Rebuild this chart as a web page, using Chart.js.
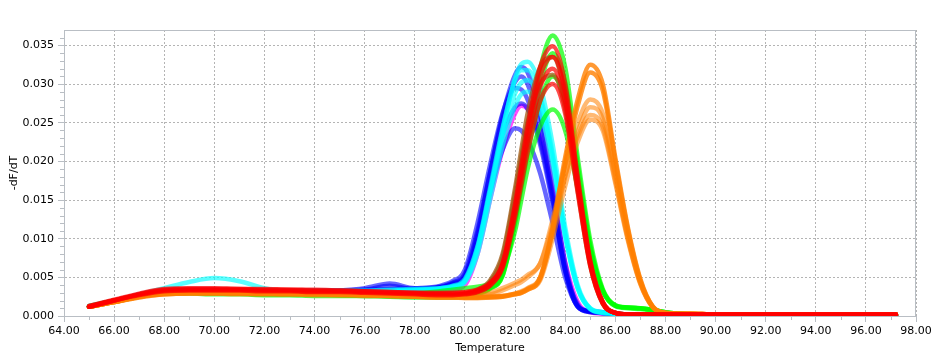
<!DOCTYPE html>
<html>
<head>
<meta charset="utf-8">
<script src="https://cdn.jsdelivr.net/npm/chart.js@4.4.1/dist/chart.umd.min.js"></script>
<style>
  html, body { margin: 0; padding: 0; background: #ffffff; }
  #wrap { width: 946px; height: 360px; }
</style>
</head>
<body>
<div id="wrap"><canvas id="c" width="946" height="360"></canvas></div>
<script>
// ---- Data ----
const temperatures = [65,66,67,68,69,70,71,72,73,74,75,76,77,78,
  79,79.5,80,80.5,81,81.5,
  82,82.25,82.5,83,83.5,84,84.5,85,
  85.5,86,86.5,87,87.5,88,
  89,90,92,94,96,97.2];

const xTickLabels = ["64.00","66.00","68.00","70.00","72.00","74.00","76.00","78.00","80.00","82.00","84.00","86.00","88.00","90.00","92.00","94.00","96.00","98.00"];
const yTickLabels = ["0.000","0.005","0.010","0.015","0.020","0.025","0.030","0.035"];
const xMinorTicks = [65,67,69,71,73,75,77,79,81,83,85,87,89,91,93,95,97];
const yMinorTicks = [0.001,0.002,0.003,0.004,0.006,0.007,0.008,0.009,0.011,0.012,0.013,0.014,0.016,0.017,0.018,0.019,0.021,0.022,0.023,0.024,0.026,0.027,0.028,0.029,0.031,0.032,0.033,0.034,0.036];

const blue1 = [0.0012,0.0019,0.0027,0.0032,0.0033,0.0033,0.0033,0.0032,0.0032,0.0032,0.0032,0.0033,0.0034,0.0035,
  0.0037,0.0040,0.0050,0.0105,0.0185,0.0260,
  0.0312,0.0322,0.0315,0.0260,0.0170,0.0068,0.0013,0.0006,
  0.0005,0.0003,0.0002,0.0001,0.0001,0.0001,
  0.0001,0.0001,0.0001,0.0001,0.0001,0.0001];
const blue2 = [0.0013,0.0020,0.0028,0.0033,0.0034,0.0034,0.0033,0.0033,0.0033,0.0033,0.0033,0.0034,0.0035,0.0036,
  0.0039,0.0045,0.0060,0.0120,0.0195,0.0262,
  0.0303,0.0310,0.0300,0.0245,0.0155,0.0060,0.0012,0.0006,
  0.0005,0.0003,0.0001,0.0001,0.0001,0.0001,
  0.0001,0.0001,0.0001,0.0001,0.0001,0.0001];
const blue3 = [0.0012,0.0019,0.0027,0.0031,0.0032,0.0032,0.0032,0.0032,0.0032,0.0032,0.0033,0.0036,0.0042,0.0036,
  0.0038,0.0043,0.0055,0.0110,0.0185,0.0255,
  0.0295,0.0293,0.0280,0.0228,0.0150,0.0058,0.0012,0.0005,
  0.0004,0.0002,0.0001,0.0001,0.0001,0.0001,
  0.0001,0.0001,0.0001,0.0001,0.0001,0.0001];
const blue4 = [0.0012,0.0019,0.0026,0.0031,0.0032,0.0032,0.0032,0.0031,0.0031,0.0031,0.0031,0.0032,0.0033,0.0034,
  0.0037,0.0042,0.0052,0.0100,0.0170,0.0235,
  0.0270,0.0275,0.0268,0.0222,0.0145,0.0060,0.0015,0.0006,
  0.0004,0.0002,0.0001,0.0001,0.0001,0.0001,
  0.0001,0.0001,0.0001,0.0001,0.0001,0.0001];
const blue5 = [0.0012,0.0019,0.0026,0.0031,0.0032,0.0032,0.0032,0.0032,0.0031,0.0031,0.0032,0.0034,0.0039,0.0035,
  0.0036,0.0041,0.0050,0.0095,0.0160,0.0215,
  0.0243,0.0240,0.0228,0.0185,0.0120,0.0050,0.0012,0.0005,
  0.0004,0.0002,0.0001,0.0001,0.0001,0.0001,
  0.0001,0.0001,0.0001,0.0001,0.0001,0.0001];

const cyan1 = [0.0012,0.0019,0.0027,0.0032,0.0033,0.0033,0.0033,0.0033,0.0033,0.0033,0.0033,0.0033,0.0034,0.0035,
  0.0036,0.0038,0.0045,0.0085,0.0160,0.0240,
  0.0308,0.0326,0.0329,0.0298,0.0222,0.0115,0.0040,0.0010,
  0.0005,0.0003,0.0002,0.0001,0.0001,0.0001,
  0.0001,0.0001,0.0001,0.0001,0.0001,0.0001];
const cyan2 = [0.0012,0.0019,0.0027,0.0031,0.0032,0.0032,0.0032,0.0032,0.0032,0.0032,0.0032,0.0032,0.0033,0.0034,
  0.0036,0.0039,0.0048,0.0090,0.0165,0.0243,
  0.0305,0.0318,0.0318,0.0285,0.0210,0.0108,0.0037,0.0009,
  0.0005,0.0003,0.0002,0.0001,0.0001,0.0001,
  0.0001,0.0001,0.0001,0.0001,0.0001,0.0001];
const cyan3 = [0.0012,0.0019,0.0028,0.0036,0.0044,0.0049,0.0045,0.0036,0.0032,0.0031,0.0031,0.0031,0.0032,0.0033,
  0.0035,0.0038,0.0046,0.0088,0.0160,0.0232,
  0.0288,0.0302,0.0305,0.0278,0.0205,0.0105,0.0036,0.0009,
  0.0004,0.0003,0.0002,0.0001,0.0001,0.0001,
  0.0001,0.0001,0.0001,0.0001,0.0001,0.0001];
const cyan4 = [0.0012,0.0019,0.0026,0.0031,0.0032,0.0032,0.0032,0.0031,0.0031,0.0031,0.0031,0.0031,0.0032,0.0033,
  0.0035,0.0037,0.0044,0.0080,0.0150,0.0220,
  0.0272,0.0287,0.0290,0.0265,0.0198,0.0102,0.0036,0.0010,
  0.0004,0.0003,0.0002,0.0001,0.0001,0.0001,
  0.0001,0.0001,0.0001,0.0001,0.0001,0.0001];

const magenta1 = [0.0012,0.0019,0.0026,0.0030,0.0031,0.0031,0.0031,0.0030,0.0030,0.0030,0.0030,0.0030,0.0031,0.0032,
  0.0033,0.0034,0.0040,0.0080,0.0150,0.0215,
  0.0262,0.0272,0.0268,0.0232,0.0160,0.0070,0.0018,0.0005,
  0.0003,0.0002,0.0001,0.0001,0.0001,0.0001,
  0.0001,0.0001,0.0001,0.0001,0.0001,0.0001];

const green1 = [0.0012,0.0019,0.0026,0.0030,0.0030,0.0030,0.0029,0.0029,0.0028,0.0028,0.0028,0.0027,0.0026,0.0025,
  0.0025,0.0025,0.0026,0.0029,0.0036,0.0055,
  0.0130,0.0180,0.0230,0.0320,0.0363,0.0322,0.0205,0.0098,
  0.0035,0.0014,0.0011,0.0010,0.0008,0.0005,
  0.0002,0.0001,0.0001,0.0001,0.0001,0.0001];
const green2 = [0.0012,0.0019,0.0026,0.0029,0.0030,0.0029,0.0029,0.0028,0.0028,0.0028,0.0027,0.0026,0.0025,0.0024,
  0.0024,0.0024,0.0025,0.0028,0.0035,0.0052,
  0.0125,0.0172,0.0220,0.0300,0.0340,0.0302,0.0195,0.0092,
  0.0033,0.0013,0.0011,0.0010,0.0008,0.0005,
  0.0002,0.0001,0.0001,0.0001,0.0001,0.0001];
const green3 = [0.0013,0.0020,0.0027,0.0030,0.0031,0.0031,0.0030,0.0029,0.0029,0.0029,0.0028,0.0027,0.0026,0.0026,
  0.0026,0.0026,0.0027,0.0030,0.0036,0.0052,
  0.0120,0.0165,0.0210,0.0278,0.0310,0.0278,0.0180,0.0088,
  0.0033,0.0013,0.0010,0.0009,0.0007,0.0004,
  0.0002,0.0001,0.0001,0.0001,0.0001,0.0001];
const green4 = [0.0012,0.0019,0.0026,0.0029,0.0029,0.0028,0.0028,0.0027,0.0027,0.0026,0.0026,0.0026,0.0027,0.0029,
  0.0032,0.0034,0.0036,0.0038,0.0042,0.0058,
  0.0110,0.0150,0.0190,0.0245,0.0267,0.0240,0.0165,0.0085,
  0.0032,0.0014,0.0011,0.0010,0.0008,0.0005,
  0.0002,0.0001,0.0001,0.0001,0.0001,0.0001];

const red1 = [0.0012,0.0020,0.0028,0.0034,0.0035,0.0035,0.0035,0.0034,0.0034,0.0033,0.0033,0.0032,0.0031,0.0030,
  0.0029,0.0029,0.0030,0.0033,0.0042,0.0068,
  0.0145,0.0195,0.0245,0.0322,0.0349,0.0300,0.0180,0.0072,
  0.0018,0.0004,0.0002,0.0002,0.0002,0.0002,
  0.0002,0.0002,0.0002,0.0002,0.0002,0.0002];
const red2 = [0.0013,0.0021,0.0029,0.0035,0.0036,0.0036,0.0035,0.0035,0.0034,0.0034,0.0033,0.0032,0.0031,0.0030,
  0.0030,0.0030,0.0031,0.0034,0.0043,0.0067,
  0.0140,0.0188,0.0236,0.0310,0.0335,0.0290,0.0175,0.0070,
  0.0018,0.0004,0.0002,0.0002,0.0002,0.0002,
  0.0002,0.0002,0.0002,0.0002,0.0002,0.0002];
const red3 = [0.0012,0.0020,0.0028,0.0033,0.0034,0.0034,0.0034,0.0033,0.0033,0.0032,0.0032,0.0031,0.0030,0.0029,
  0.0028,0.0028,0.0029,0.0032,0.0040,0.0064,
  0.0135,0.0180,0.0225,0.0296,0.0320,0.0277,0.0168,0.0068,
  0.0017,0.0004,0.0002,0.0002,0.0002,0.0002,
  0.0002,0.0002,0.0002,0.0002,0.0002,0.0002];
const red4 = [0.0012,0.0020,0.0027,0.0032,0.0033,0.0033,0.0033,0.0032,0.0032,0.0031,0.0031,0.0030,0.0029,0.0028,
  0.0027,0.0027,0.0028,0.0031,0.0039,0.0062,
  0.0128,0.0170,0.0212,0.0278,0.0300,0.0262,0.0160,0.0065,
  0.0016,0.0004,0.0002,0.0002,0.0002,0.0002,
  0.0002,0.0002,0.0002,0.0002,0.0002,0.0002];

const brown1 = [0.0012,0.0019,0.0026,0.0030,0.0031,0.0031,0.0031,0.0030,0.0030,0.0030,0.0029,0.0029,0.0028,0.0027,
  0.0027,0.0027,0.0029,0.0034,0.0046,0.0080,
  0.0165,0.0215,0.0262,0.0322,0.0335,0.0285,0.0170,0.0068,
  0.0017,0.0004,0.0002,0.0002,0.0002,0.0002,
  0.0002,0.0002,0.0002,0.0002,0.0002,0.0002];
const brown2 = [0.0012,0.0019,0.0026,0.0029,0.0030,0.0030,0.0030,0.0029,0.0029,0.0029,0.0028,0.0028,0.0027,0.0026,
  0.0026,0.0026,0.0028,0.0032,0.0044,0.0076,
  0.0158,0.0205,0.0250,0.0300,0.0312,0.0268,0.0162,0.0065,
  0.0016,0.0004,0.0002,0.0002,0.0002,0.0002,
  0.0002,0.0002,0.0002,0.0002,0.0002,0.0002];

const orange1 = [0.0012,0.0018,0.0025,0.0029,0.0030,0.0030,0.0030,0.0029,0.0029,0.0029,0.0028,0.0028,0.0027,0.0026,
  0.0025,0.0025,0.0024,0.0024,0.0025,0.0026,
  0.0029,0.0031,0.0035,0.0050,0.0115,0.0205,0.0280,0.0325,
  0.0300,0.0205,0.0115,0.0048,0.0012,0.0004,
  0.0003,0.0002,0.0002,0.0002,0.0002,0.0002];
const orange2 = [0.0012,0.0018,0.0025,0.0028,0.0029,0.0029,0.0029,0.0029,0.0028,0.0028,0.0028,0.0027,0.0026,0.0025,
  0.0024,0.0024,0.0024,0.0024,0.0024,0.0025,
  0.0028,0.0030,0.0034,0.0048,0.0110,0.0198,0.0272,0.0315,
  0.0292,0.0200,0.0112,0.0046,0.0012,0.0004,
  0.0003,0.0002,0.0002,0.0002,0.0002,0.0002];
const orange3 = [0.0012,0.0018,0.0025,0.0029,0.0030,0.0030,0.0030,0.0029,0.0029,0.0029,0.0028,0.0028,0.0027,0.0027,
  0.0027,0.0027,0.0028,0.0029,0.0030,0.0036,
  0.0043,0.0047,0.0053,0.0068,0.0125,0.0195,0.0250,0.0280,
  0.0262,0.0185,0.0105,0.0044,0.0012,0.0004,
  0.0003,0.0002,0.0002,0.0002,0.0002,0.0002];
const orange4 = [0.0012,0.0018,0.0024,0.0028,0.0029,0.0029,0.0029,0.0028,0.0028,0.0028,0.0027,0.0027,0.0026,0.0025,
  0.0024,0.0024,0.0024,0.0024,0.0025,0.0026,
  0.0029,0.0032,0.0036,0.0050,0.0108,0.0180,0.0238,0.0270,
  0.0255,0.0180,0.0102,0.0043,0.0011,0.0004,
  0.0003,0.0002,0.0002,0.0002,0.0002,0.0002];
const orange5 = [0.0012,0.0018,0.0025,0.0029,0.0030,0.0030,0.0029,0.0029,0.0029,0.0028,0.0028,0.0027,0.0027,0.0026,
  0.0026,0.0026,0.0027,0.0027,0.0028,0.0033,
  0.0040,0.0044,0.0050,0.0068,0.0118,0.0182,0.0232,0.0260,
  0.0245,0.0175,0.0100,0.0042,0.0011,0.0004,
  0.0003,0.0002,0.0002,0.0002,0.0002,0.0002];
const orange6 = [0.0012,0.0018,0.0024,0.0028,0.0029,0.0029,0.0028,0.0028,0.0028,0.0027,0.0027,0.0026,0.0026,0.0025,
  0.0024,0.0024,0.0023,0.0023,0.0024,0.0025,
  0.0028,0.0030,0.0034,0.0046,0.0100,0.0168,0.0225,0.0254,
  0.0240,0.0172,0.0098,0.0041,0.0011,0.0004,
  0.0003,0.0002,0.0002,0.0002,0.0002,0.0002];

// ---- Series grouping (name, values, colour, draw order: 1 = topmost) ----
const seriesList = [
  ["Magenta 1", magenta1, "rgba(255,0,255,0.7)", 8],
  ["Blue 1", blue1, "rgba(0,0,255,0.6)", 7],
  ["Blue 2", blue2, "rgba(0,0,255,0.6)", 7],
  ["Blue 3", blue3, "rgba(0,0,255,0.6)", 7],
  ["Blue 4", blue4, "rgba(0,0,255,0.6)", 7],
  ["Blue 5", blue5, "rgba(0,0,255,0.6)", 7],
  ["Cyan 1", cyan1, "rgba(0,255,255,0.65)", 6],
  ["Cyan 2", cyan2, "rgba(0,255,255,0.65)", 6],
  ["Cyan 3", cyan3, "rgba(0,255,255,0.65)", 6],
  ["Cyan 4", cyan4, "rgba(0,255,255,0.65)", 6],
  ["Green 1", green1, "rgba(0,255,0,0.7)", 4],
  ["Green 2", green2, "rgba(0,255,0,0.7)", 4],
  ["Green 3", green3, "rgba(0,255,0,0.7)", 4],
  ["Green 4", green4, "rgba(0,255,0,0.7)", 4],
  ["Brown 1", brown1, "rgba(160,90,20,0.75)", 3],
  ["Brown 2", brown2, "rgba(160,90,20,0.75)", 3],
  ["Orange 1", orange1, "rgba(255,128,0,0.8)", 2],
  ["Orange 2", orange2, "rgba(255,128,0,0.8)", 2],
  ["Orange 3", orange3, "rgba(255,128,0,0.55)", 2],
  ["Orange 4", orange4, "rgba(255,128,0,0.55)", 2],
  ["Orange 5", orange5, "rgba(255,128,0,0.55)", 2],
  ["Orange 6", orange6, "rgba(255,128,0,0.55)", 2],
  ["Red 1", red1, "rgba(255,0,0,0.7)", 1],
  ["Red 2", red2, "rgba(255,0,0,0.7)", 1],
  ["Red 3", red3, "rgba(255,0,0,0.7)", 1],
  ["Red 4", red4, "rgba(255,0,0,0.7)", 1]
];

const AXIS_COLOR = "#b9bec4";
const GRID_COLOR = "#b4b4b4";
const FONT = { family: "'DejaVu Sans', Verdana, sans-serif", size: 11 };

const datasets = seriesList.map(([name, vals, color, order]) => ({
  label: name,
  data: temperatures.map((t, i) => ({ x: t, y: vals[i] })),
  borderColor: color,
  backgroundColor: color,
  borderWidth: 4.5,
  pointRadius: 0,
  fill: false,
  cubicInterpolationMode: "monotone",
  borderCapStyle: "round",
  borderJoinStyle: "round",
  order: order
}));

const frameAndMinorTicks = {
  id: "frameAndMinorTicks",
  afterDraw(chart) {
    const { ctx, chartArea: a, scales: { x, y } } = chart;
    ctx.save();
    ctx.strokeStyle = AXIS_COLOR;
    ctx.lineWidth = 1;
    ctx.setLineDash([]);
    ctx.beginPath();
    ctx.moveTo(a.left, Math.round(a.top) + 0.5);
    ctx.lineTo(a.right, Math.round(a.top) + 0.5);
    ctx.moveTo(Math.round(a.right) - 0.5, a.top);
    ctx.lineTo(Math.round(a.right) - 0.5, a.bottom);
    for (const v of xMinorTicks) {
      const px = Math.round(x.getPixelForValue(v)) + 0.5;
      ctx.moveTo(px, a.bottom);
      ctx.lineTo(px, a.bottom + 4);
    }
    for (const v of yMinorTicks) {
      const py = Math.round(y.getPixelForValue(v)) + 0.5;
      ctx.moveTo(a.left - 4, py);
      ctx.lineTo(a.left, py);
    }
    ctx.stroke();
    ctx.restore();
  }
};

Chart.defaults.font = FONT;
Chart.defaults.color = "#000000";

new Chart(document.getElementById("c"), {
  type: "line",
  data: { datasets },
  options: {
    responsive: false,
    animation: false,
    events: [],
    layout: { padding: { left: 0, right: 30, top: 30, bottom: 0 } },
    plugins: { legend: { display: false }, tooltip: { enabled: false } },
    scales: {
      x: {
        type: "linear",
        min: 64, max: 98,
        afterFit: (s) => { s.height = 44; },
        ticks: {
          stepSize: 2,
          padding: 3,
          maxRotation: 0,
          autoSkip: false,
          includeBounds: false,
          callback: (v) => xTickLabels[Math.round((v - 64) / 2)]
        },
        grid: {
          color: GRID_COLOR,
          tickColor: AXIS_COLOR,
          tickLength: 6,
          tickBorderDash: [],
          lineWidth: 1
        },
        border: { color: AXIS_COLOR, dash: [2, 2] },
        title: { display: true, text: "Temperature", font: FONT, color: "#000", padding: { top: 0, bottom: 5 } }
      },
      y: {
        type: "linear",
        min: 0, max: 0.037,
        afterFit: (s) => { s.width = 64; },
        ticks: {
          stepSize: 0.005,
          padding: 4,
          autoSkip: false,
          includeBounds: false,
          callback: (v) => yTickLabels[Math.round(v / 0.005)]
        },
        grid: {
          color: GRID_COLOR,
          tickColor: AXIS_COLOR,
          tickLength: 6,
          tickBorderDash: [],
          lineWidth: 1
        },
        border: { color: AXIS_COLOR, dash: [2, 2] },
        title: { display: true, text: "-dF/dT", font: FONT, color: "#000", padding: { top: 8, bottom: 0 } }
      }
    }
  },
  plugins: [frameAndMinorTicks]
});
</script>
</body>
</html>
